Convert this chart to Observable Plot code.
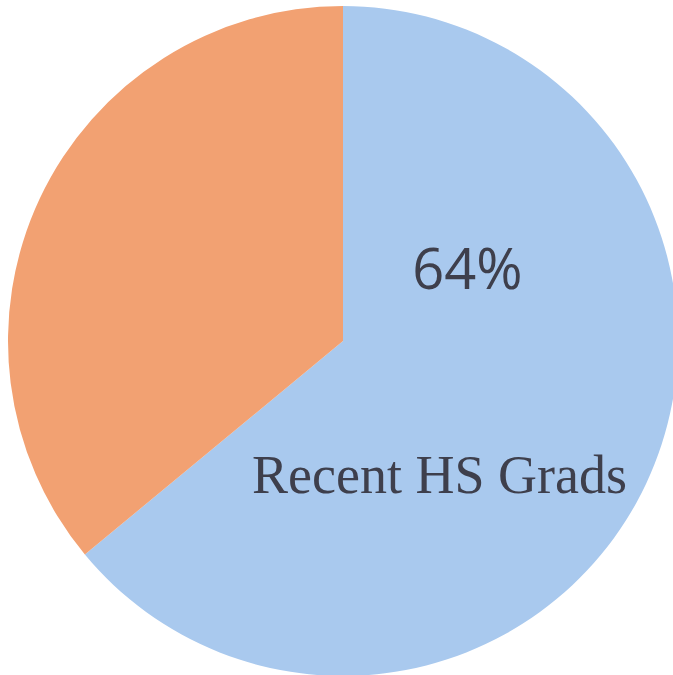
<!DOCTYPE html>
<html>
<head>
<meta charset="utf-8">
<script src="https://cdn.jsdelivr.net/npm/d3@7"></script>
<script src="https://cdn.jsdelivr.net/npm/@observablehq/plot@0.6"></script>
<style>
  html, body { margin: 0; padding: 0; background: #ffffff; }
  #chart svg { display: block; }
</style>
</head>
<body>
<div id="chart"></div>
<script>
// Data
const categories = ["Recent HS Grads", "Other"];
const values = [64, 36];
const valueLabels = ["64%"];
const categoryLabels = ["Recent HS Grads"];

// Styles / layout (not data)
const colors = ["#a9c9ee", "#f2a172"];
const W = 673, H = 675;
const cxPx = 343, cyPx = 341, rPx = 335;

const data = categories.map((c, i) => ({category: c, value: values[i]}));
const arcs = d3.pie().sort(null).value(d => d.value)(data);

const xDomain = [-cxPx / rPx, (W - cxPx) / rPx];
const yDomain = [-(H - cyPx) / rPx, cyPx / rPx];

// label anchor points, in units of the pie radius
const pctPos = {x: (467 - cxPx) / rPx, y: (cyPx - 288) / rPx};
const namePos = {x: (439 - cxPx) / rPx, y: (cyPx - 492) / rPx};

const pieMark = (index, scales) => {
  const cx = scales.x(0), cy = scales.y(0);
  const r = scales.x(1) - scales.x(0);
  const g = d3.create("svg:g").attr("transform", `translate(${cx},${cy})`);
  g.selectAll("path")
    .data(arcs)
    .join("path")
    .attr("d", d3.arc().innerRadius(0).outerRadius(r))
    .attr("fill", (d, i) => colors[i]);
  return g.node();
};

const chart = Plot.plot({
  width: W,
  height: H,
  margin: 0,
  x: {domain: xDomain, axis: null},
  y: {domain: yDomain, axis: null},
  marks: [
    pieMark,
    Plot.text(valueLabels, {
      x: () => pctPos.x, y: () => pctPos.y, text: d => d,
      fontFamily: "Open Sans", fontSize: 56, fill: "#3e3f4c",
      textAnchor: "middle", lineAnchor: "bottom"
    }),
    Plot.text(categoryLabels, {
      x: () => namePos.x, y: () => namePos.y, text: d => d,
      fontFamily: "Liberation Serif", fontSize: 54, fill: "#3e3f4c",
      textAnchor: "middle", lineAnchor: "bottom"
    })
  ]
});
document.getElementById("chart").appendChild(chart);
</script>
</body>
</html>
